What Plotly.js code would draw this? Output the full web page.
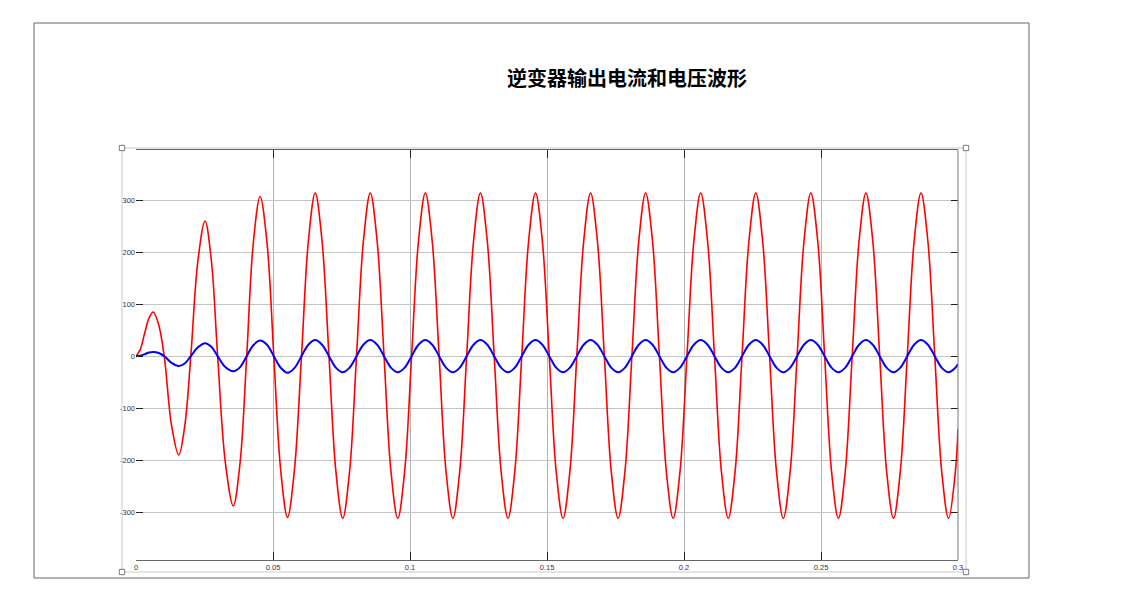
<!DOCTYPE html>
<html>
<head>
<meta charset="utf-8">
<script src="https://cdn.plot.ly/plotly-3.0.1.min.js"></script>
<style>
  html, body { margin: 0; padding: 0; background: #ffffff; }
  #chart { width: 1125px; height: 591px; }
</style>
</head>
<body>
<div id="chart"></div>
<script>
// ---- data ----
const titleText = "逆变器输出电流和电压波形";

// time (s)
const time = [
  0, 0.0015, 0.0032, 0.0048, 0.0063, 0.0083, 0.0103, 0.0130, 0.0156, 0.0178,
  0.0200, 0.0226, 0.0252, 0.0275, 0.0298, 0.0326, 0.0355, 0.0380, 0.0404, 0.0428,
  0.0453, 0.0478, 0.0503, 0.0528, 0.0553, 0.0578, 0.0604, 0.0629,
  0.06540, 0.06791, 0.07043, 0.07294, 0.07545, 0.07796, 0.08048, 0.08299,
  0.08550, 0.08801, 0.09053, 0.09304, 0.09555, 0.09806, 0.10058, 0.10309,
  0.10560, 0.10811, 0.11063, 0.11314, 0.11565, 0.11816, 0.12068, 0.12319,
  0.12570, 0.12821, 0.13073, 0.13324, 0.13575, 0.13826, 0.14078, 0.14329,
  0.14580, 0.14831, 0.15083, 0.15334, 0.15585, 0.15836, 0.16088, 0.16339,
  0.16590, 0.16841, 0.17093, 0.17344, 0.17595, 0.17846, 0.18098, 0.18349,
  0.18600, 0.18851, 0.19103, 0.19354, 0.19605, 0.19856, 0.20108, 0.20359,
  0.20610, 0.20861, 0.21113, 0.21364, 0.21615, 0.21866, 0.22118, 0.22369,
  0.22620, 0.22871, 0.23123, 0.23374, 0.23625, 0.23876, 0.24128, 0.24379,
  0.24630, 0.24881, 0.25133, 0.25384, 0.25635, 0.25886, 0.26138, 0.26389,
  0.26640, 0.26891, 0.27143, 0.27394, 0.27645, 0.27896, 0.28148, 0.28399,
  0.28650, 0.28901, 0.29153, 0.29404, 0.29655, 0.29906, 0.30000
];

// inverter output voltage (red)
const voltage = [
  0, 12, 45, 74, 85, 60, 0, -134, -190, -134,
  0, 184, 260, 184, 0, -204, -288, -204, 0, 217,
  307, 219, 0, -219, -310, -220, 0, 221,
  314, 221, 0, -221, -312, -221, 0, 221,
  314, 221, 0, -221, -312, -221, 0, 221,
  314, 221, 0, -221, -312, -221, 0, 221,
  314, 221, 0, -221, -312, -221, 0, 221,
  314, 221, 0, -221, -312, -221, 0, 221,
  314, 221, 0, -221, -312, -221, 0, 221,
  314, 221, 0, -221, -312, -221, 0, 221,
  314, 221, 0, -221, -312, -221, 0, 221,
  314, 221, 0, -221, -312, -221, 0, 221,
  314, 221, 0, -221, -312, -221, 0, 221,
  314, 221, 0, -221, -312, -221, 0, 221,
  314, 221, 0, -221, -312, -221, -140
];

// inverter output current (blue)
const current = [
  0, 1, 4, 7, 8, 6, 0, -13, -19, -14,
  0, 17, 25, 18, 0, -21, -29, -21, 0, 21,
  30, 22, 0, -22, -32, -23, 0, 22,
  31, 22, 0, -22, -31, -22, 0, 22,
  31, 22, 0, -22, -31, -22, 0, 22,
  31, 22, 0, -22, -31, -22, 0, 22,
  31, 22, 0, -22, -31, -22, 0, 22,
  31, 22, 0, -22, -31, -22, 0, 22,
  31, 22, 0, -22, -31, -22, 0, 22,
  31, 22, 0, -22, -31, -22, 0, 22,
  31, 22, 0, -22, -31, -22, 0, 22,
  31, 22, 0, -22, -31, -22, 0, 22,
  31, 22, 0, -22, -31, -22, 0, 22,
  31, 22, 0, -22, -31, -22, 0, 22,
  31, 22, 0, -22, -31, -22, -15
];

const xTickVals = [0, 0.05, 0.1, 0.15, 0.2, 0.25, 0.3];
const xTickText = ["0", "0.05", "0.1", "0.15", "0.2", "0.25", "0.3"];
const yTickVals = [-300, -200, -100, 0, 100, 200, 300];
const yTickText = ["-300", "-200", "-100", "0", "100", "200", "300"];

// ---- layout helpers (pixel -> paper) ----
const W = 1125, H = 591;
const M = { l: 136, r: 167, t: 150, b: 31 };
const PW = W - M.l - M.r, PH = H - M.t - M.b;
const px = x => (x - M.l) / PW;
const py = y => (H - M.b - y) / PH;

function rectPx(x0, y0, x1, y1, color, fill) {
  return {
    type: 'rect', xref: 'paper', yref: 'paper',
    x0: px(x0), x1: px(x1), y0: py(y1), y1: py(y0),
    line: { color: color, width: 1 },
    fillcolor: fill || 'rgba(0,0,0,0)'
  };
}
function linePx(x0, y0, x1, y1, color) {
  return {
    type: 'line', xref: 'paper', yref: 'paper',
    x0: px(x0), x1: px(x1), y0: py(y0), y1: py(y1),
    line: { color: color, width: 1 }
  };
}
function handle(cx, cy) {
  return rectPx(cx - 2.7, cy - 2.7, cx + 2.7, cy + 2.7, '#7a7a7a', '#ffffff');
}

const traces = [
  {
    x: time, y: voltage, type: 'scatter', mode: 'lines',
    line: { color: '#ff0000', width: 1.6, shape: 'spline', smoothing: 1 },
    name: 'voltage'
  },
  {
    x: time, y: current, type: 'scatter', mode: 'lines',
    line: { color: '#0000ff', width: 2, shape: 'spline', smoothing: 1 },
    name: 'current'
  }
];

const tickFont = { family: 'Liberation Sans, Arial, sans-serif', size: 7.5, color: '#333333' };

const layout = {
  width: W, height: H,
  margin: M,
  paper_bgcolor: '#ffffff',
  plot_bgcolor: '#ffffff',
  showlegend: false,
  hovermode: false,
  title: {
    text: titleText,
    font: { family: 'Noto Sans CJK SC, sans-serif', size: 20, color: '#000000', weight: 700 },
    xref: 'container', yref: 'container',
    x: 627 / W, xanchor: 'center',
    y: 1 - 79 / H, yanchor: 'middle'
  },
  xaxis: {
    range: [0, 0.3],
    tickmode: 'array', tickvals: xTickVals, ticktext: xTickText,
    ticks: 'inside', ticklen: 8, tickwidth: 1, tickcolor: '#222222',
    mirror: 'ticks', showline: true, linecolor: '#666666', linewidth: 1,
    showgrid: true, gridcolor: '#b4b4b4', gridwidth: 1,
    zeroline: false,
    tickfont: tickFont,
    fixedrange: true
  },
  yaxis: {
    range: [-392, 396.5],
    tickmode: 'array', tickvals: yTickVals, ticktext: yTickText,
    ticks: 'inside', ticklen: 7, tickwidth: 1, tickcolor: '#222222',
    mirror: 'ticks', showline: false,
    showgrid: true, gridcolor: '#c4c4c4', gridwidth: 1,
    zeroline: false,
    tickfont: tickFont,
    fixedrange: true
  },
  shapes: [
    rectPx(34, 23, 1029, 578, '#666666'),
    rectPx(122, 148, 966, 572, '#c8c8c8'),
    linePx(958, 150, 958, 560, '#777777'),
    handle(122, 148), handle(966, 148), handle(122, 572), handle(966, 572)
  ]
};

Plotly.newPlot('chart', traces, layout, { staticPlot: true, displayModeBar: false });
</script>
</body>
</html>
